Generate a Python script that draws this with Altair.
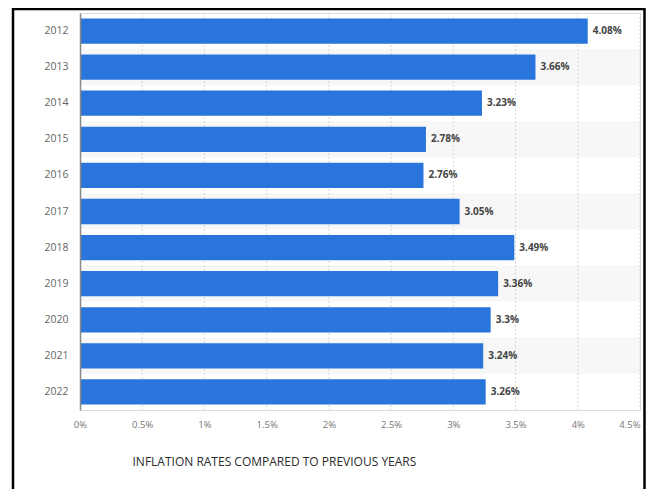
import altair as alt
import pandas as pd

years = ["2012", "2013", "2014", "2015", "2016", "2017", "2018", "2019", "2020", "2021", "2022"]
rates = [4.08, 3.66, 3.23, 2.78, 2.76, 3.05, 3.49, 3.36, 3.3, 3.24, 3.26]
stripe_years = ["2013", "2015", "2017", "2019", "2021"]
grid_values = [0.5, 1, 1.5, 2, 2.5, 3, 3.5, 4, 4.5]
x_ticks = [0, 0.5, 1, 1.5, 2, 2.5, 3, 3.5, 4, 4.5]
title_text = "INFLATION RATES COMPARED TO PREVIOUS YEARS"

df = pd.DataFrame({"year": years, "rate": rates})
df["label"] = [f"{r:g}%" for r in rates]
stripes = pd.DataFrame({"year": stripe_years})
grid = pd.DataFrame({"rate": grid_values})
frame = pd.DataFrame({"k": [0]})

W, H = 560, 397

xscale = alt.Scale(domain=[0, 4.5], nice=False, zero=True)
xaxis = alt.Axis(
    values=x_ticks, labelExpr="datum.value + '%'", labelColor="#777777",
    labelFontSize=9.5, labelPadding=9, ticks=False, domain=False, grid=False,
    labelFlush=False,
    labelAlign={"expr": "datum.value >= 4.5 ? 'right' : 'center'"},
    title=title_text, titleX=52, titleY=51, titleAlign="left", titleBaseline="middle",
    titleFontSize=12, titleFontWeight="normal", titleColor="#2b2b2b",
)
bar_y_scale = alt.Scale(domain=years, paddingInner=0.3, paddingOuter=0.15)

stripe_layer = alt.Chart(stripes).mark_rect(color="#f7f7f7").encode(
    y=alt.Y("year:N", scale=alt.Scale(domain=years, paddingInner=0, paddingOuter=0), axis=None),
    x=alt.value(0), x2=alt.value(W),
)

grid_layer = alt.Chart(grid).mark_rule(color="#d6d6d6", strokeDash=[2, 2], strokeWidth=1).encode(
    x=alt.X("rate:Q", scale=xscale, axis=xaxis),
)

bars = alt.Chart(df).mark_bar(color="#2975dc").encode(
    y=alt.Y("year:N", scale=bar_y_scale, axis=alt.Axis(
        title=None, labelColor="#666666", labelFontSize=10.5, labelPadding=12,
        ticks=False, domainColor="#888888", domainWidth=1.5, zindex=1, grid=False)),
    x=alt.X("rate:Q", scale=xscale, axis=xaxis),
)

labels = alt.Chart(df).mark_text(align="left", baseline="middle", dx=5, fontWeight="bold",
                                 fontSize=10, color="#444444").encode(
    y=alt.Y("year:N", scale=bar_y_scale, axis=None),
    x=alt.X("rate:Q", scale=xscale, axis=xaxis),
    text="label:N",
)

border = alt.Chart(frame).mark_rect(fillOpacity=0, stroke="black", strokeWidth=2.5).encode(
    x=alt.value(-67), x2=alt.value(564.5), y=alt.value(-4), y2=alt.value(600),
)

chart = alt.layer(stripe_layer, grid_layer, bars, labels, border).resolve_scale(
    y="independent"
).properties(
    width=W, height=H,
    padding={"left": 72, "top": 5, "right": 6, "bottom": 79},
    autosize=alt.AutoSizeParams(type="none"),
).configure_view(stroke=None).configure(font="Open Sans")

chart.save("out.html", embed_options={"renderer": "svg", "actions": False})
